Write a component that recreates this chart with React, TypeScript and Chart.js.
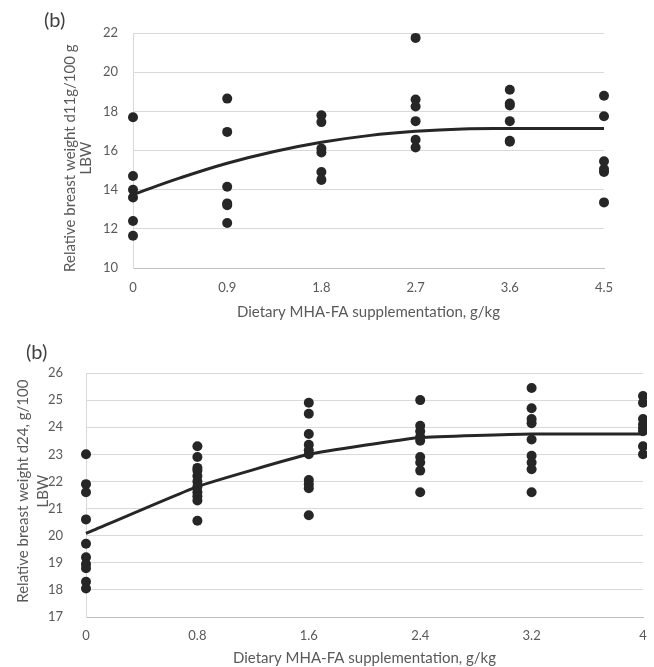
import React, { useEffect, useRef } from 'react';
import { Chart, registerables } from 'chart.js';

Chart.register(...registerables);

// ---------- Panel 1 (d11) ----------
const topDoses = [0, 0.9, 1.8, 2.7, 3.6, 4.5];
const topXTickLabels = ['0', '0.9', '1.8', '2.7', '3.6', '4.5'];
const topYTicks = [10, 12, 14, 16, 18, 20, 22];
const topObs0 = [17.7, 14.7, 14.0, 13.6, 12.4, 11.65];
const topObs09 = [18.65, 16.95, 14.15, 13.3, 13.2, 12.3];
const topObs18 = [17.8, 17.45, 16.1, 15.9, 14.9, 14.5];
const topObs27 = [21.75, 18.6, 18.25, 17.5, 16.55, 16.15];
const topObs36 = [19.1, 18.4, 18.3, 17.5, 16.5, 16.45];
const topObs45 = [18.8, 17.75, 15.45, 15.05, 14.9, 13.35];
const topFitX = [0, 0.45, 0.9, 1.35, 1.8, 2.25, 2.7, 3.15, 3.6, 4.05, 4.5];
const topFitY = [13.75, 14.6, 15.35, 15.95, 16.42, 16.76, 16.98, 17.1, 17.12, 17.12, 17.12];
const topYTitle = ['Relative breast weight d11g/100 g\u00a0\u00a0\u00a0\u00a0', 'LBW\u00a0\u00a0\u00a0\u00a0'];

// ---------- Panel 2 (d24) ----------
const botDoses = [0, 0.8, 1.6, 2.4, 3.2, 4];
const botXTickLabels = ['0', '0.8', '1.6', '2.4', '3.2', '4'];
const botYTicks = [17, 18, 19, 20, 21, 22, 23, 24, 25, 26];
const botObs0 = [23.0, 21.9, 21.6, 20.6, 19.7, 19.2, 18.95, 18.8, 18.3, 18.05];
const botObs08 = [23.3, 22.9, 22.5, 22.4, 22.2, 22.0, 21.8, 21.6, 21.45, 21.3, 20.55];
const botObs16 = [24.9, 24.5, 23.75, 23.35, 23.15, 23.0, 22.05, 21.9, 21.75, 20.75];
const botObs24 = [25.0, 24.05, 23.85, 23.65, 23.5, 22.9, 22.7, 22.4, 21.6];
const botObs32 = [25.45, 24.7, 24.3, 24.15, 23.55, 22.95, 22.7, 22.45, 21.6];
const botObs40 = [25.15, 24.9, 24.3, 24.1, 23.95, 23.85, 23.3, 23.0];
const botFitX = [0, 0.8, 1.6, 2.4, 3.2, 4];
const botFitY = [20.08, 21.81, 23.0, 23.62, 23.75, 23.75];
const botYTitle = ['\u00a0\u00a0Relative breast weight d24, g/100', '\u00a0\u00a0LBW'];

const xTitle = 'Dietary MHA-FA supplementation, g/kg';

const FONT = 'Lato, "Open Sans", sans-serif';
const DOT = '#262626';

type PanelCfg = {
  width: number;
  height: number;
  doses: number[];
  obs: number[][];
  fitX: number[];
  fitY: number[];
  xTicks: number[];
  xTickLabels: string[];
  yTicks: number[];
  yTitle: string[];
  pad: { top: number; right: number };
  yWidth: number;
  xHeight: number;
  yTickPad: number;
  xTickPad: number;
  yTitlePad: number;
  yTitleLH: number;
  xTitlePad: number;
  tension: number;
  clip: any;
};

function Panel({ cfg }: { cfg: PanelCfg }) {
  const ref = useRef<HTMLCanvasElement | null>(null);
  useEffect(() => {
    if (!ref.current) return;
    const points: { x: number; y: number }[] = [];
    cfg.doses.forEach((d, i) => cfg.obs[i].forEach((v) => points.push({ x: d, y: v })));
    const fit = cfg.fitX.map((x, i) => ({ x, y: cfg.fitY[i] }));
    const chart = new Chart(ref.current, {
      type: 'scatter',
      data: {
        datasets: [
          {
            data: fit,
            showLine: true,
            borderColor: DOT,
            borderWidth: 3,
            pointRadius: 0,
            tension: cfg.tension,
            fill: false,
            clip: cfg.clip,
            order: 2,
          } as any,
          {
            data: points,
            pointRadius: 5,
            pointBackgroundColor: DOT,
            pointBorderColor: DOT,
            pointBorderWidth: 0,
            showLine: false,
            clip: cfg.clip,
            order: 1,
          } as any,
        ],
      },
      options: {
        animation: false,
        responsive: false,
        layout: { padding: { top: cfg.pad.top, right: cfg.pad.right, bottom: 0, left: 0 } },
        plugins: { legend: { display: false }, tooltip: { enabled: false } },
        scales: {
          x: {
            type: 'linear',
            min: cfg.xTicks[0],
            max: cfg.xTicks[cfg.xTicks.length - 1],
            grid: { display: false, drawTicks: false },
            border: { display: true, color: '#bfbfbf', width: 1 },
            afterBuildTicks: (s: any) => {
              s.ticks = cfg.xTicks.map((v) => ({ value: v }));
            },
            afterFit: (s: any) => {
              s.height = cfg.xHeight;
              s.paddingLeft = 0;
              s.paddingRight = 0;
            },
            ticks: {
              color: '#595959',
              font: { family: FONT, size: 13 },
              padding: cfg.xTickPad,
              maxRotation: 0,
              autoSkip: false,
              callback: (v: any) => {
                const i = cfg.xTicks.indexOf(Number(v));
                return i >= 0 ? cfg.xTickLabels[i] : '';
              },
            },
            title: {
              display: true,
              text: xTitle,
              color: '#595959',
              font: { family: FONT, size: 15, lineHeight: '16px' as any },
              padding: { top: 0, bottom: cfg.xTitlePad },
            },
          },
          y: {
            type: 'linear',
            min: cfg.yTicks[0],
            max: cfg.yTicks[cfg.yTicks.length - 1],
            grid: { color: '#d9d9d9', lineWidth: 1, drawTicks: false },
            border: { display: true, color: '#d9d9d9', width: 1 },
            afterBuildTicks: (s: any) => {
              s.ticks = cfg.yTicks.map((v) => ({ value: v }));
            },
            afterFit: (s: any) => {
              s.width = cfg.yWidth;
              s.paddingTop = 0;
              s.paddingBottom = 0;
            },
            ticks: {
              color: '#595959',
              font: { family: FONT, size: 13 },
              padding: cfg.yTickPad,
              callback: (v: any) => String(v),
            },
            title: {
              display: true,
              text: cfg.yTitle,
              color: '#595959',
              font: { family: FONT, size: 15, lineHeight: (cfg.yTitleLH + 'px') as any },
              padding: { top: cfg.yTitlePad, bottom: 0 },
            },
          },
        },
      } as any,
    });
    return () => chart.destroy();
  }, [cfg]);
  return (
    <canvas
      ref={ref}
      width={cfg.width}
      height={cfg.height}
      style={{ display: 'block', width: cfg.width, height: cfg.height }}
    />
  );
}

const topCfg: PanelCfg = {
  width: 654,
  height: 325,
  doses: topDoses,
  obs: [topObs0, topObs09, topObs18, topObs27, topObs36, topObs45],
  fitX: topFitX,
  fitY: topFitY,
  xTicks: topDoses,
  xTickLabels: topXTickLabels,
  yTicks: topYTicks,
  yTitle: topYTitle,
  pad: { top: 33, right: 50 },
  yWidth: 133,
  xHeight: 57,
  yTickPad: 15,
  xTickPad: 12,
  yTitlePad: 62,
  yTitleLH: 16,
  xTitlePad: 5,
  tension: 0.4,
  clip: false,
};

const botCfg: PanelCfg = {
  width: 654,
  height: 342,
  doses: botDoses,
  obs: [botObs0, botObs08, botObs16, botObs24, botObs32, botObs40],
  fitX: botFitX,
  fitY: botFitY,
  xTicks: botDoses,
  xTickLabels: botXTickLabels,
  yTicks: botYTicks,
  yTitle: botYTitle,
  pad: { top: 48, right: 11 },
  yWidth: 86,
  xHeight: 50,
  yTickPad: 23,
  xTickPad: 11,
  yTitlePad: 13.5,
  yTitleLH: 20,
  xTitlePad: 1,
  tension: 0.12,
  clip: { left: false, top: false, bottom: false, right: 4 },
};

export default function App() {
  return (
    <div style={{ position: 'absolute', left: 0, top: 0, width: 654, height: 667, background: '#fff', overflow: 'hidden' }}>
      <div style={{ position: 'absolute', left: 0, top: 0 }}>
        <Panel cfg={topCfg} />
      </div>
      <div style={{ position: 'absolute', left: 0, top: 325 }}>
        <Panel cfg={botCfg} />
      </div>
      <div style={{ position: 'absolute', left: 44, top: 7, fontFamily: FONT, fontSize: 20, color: '#404040', lineHeight: '24px' }}>(b)</div>
      <div style={{ position: 'absolute', left: 26, top: 339, fontFamily: FONT, fontSize: 20, color: '#404040', lineHeight: '24px' }}>(b)</div>
    </div>
  );
}
